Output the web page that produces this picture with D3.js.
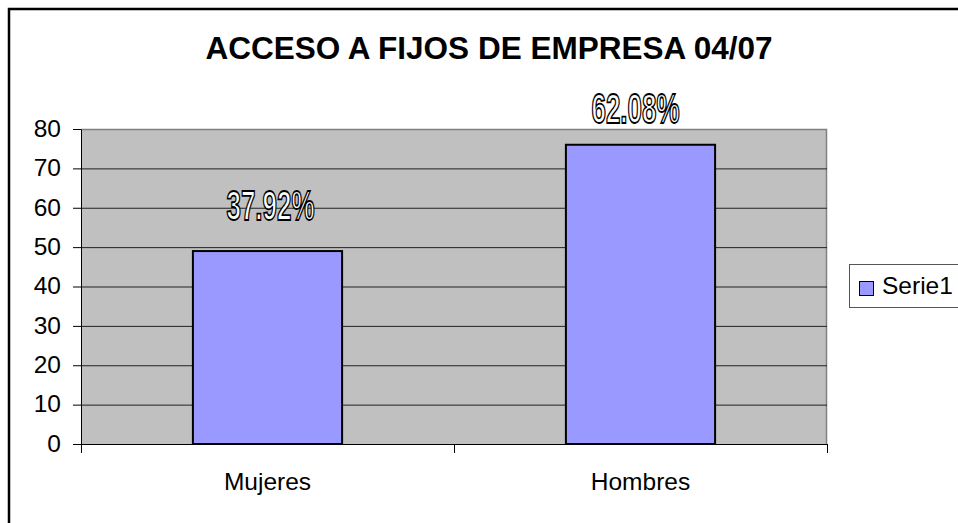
<!DOCTYPE html>
<meta charset="utf-8">
<head>
<style>
  body { margin: 0; background: #fff; }
  text { font-family: "Liberation Sans", Arial, sans-serif; }
</style>
</head>
<body>
<div id="chart"></div>
<script src="https://cdn.jsdelivr.net/npm/d3@7"></script>
<script>
// data
const categories = ["Mujeres", "Hombres"];
const values = [49, 76];
const pctLabels = ["37.92%", "62.08%"];
const yTicks = [0, 10, 20, 30, 40, 50, 60, 70, 80];
const seriesName = "Serie1";
const chartTitle = "ACCESO A FIJOS DE EMPRESA 04/07";

const W = 958, H = 523;
const plot = {left: 81, right: 827, top: 129, bottom: 444};
const fontSize = "24.5px";

const svg = d3.select("#chart").append("svg")
  .attr("width", W).attr("height", H);

// chart frame
svg.append("rect").attr("x", 0).attr("y", 0).attr("width", W).attr("height", H).attr("fill", "#fff");
svg.append("rect")
  .attr("x", 9).attr("y", 9).attr("width", 1000).attr("height", 600)
  .attr("fill", "#fff").attr("stroke", "#000").attr("stroke-width", 2.5);

const x = d3.scaleBand()
  .domain(categories)
  .range([plot.left, plot.right])
  .paddingInner(0.6)
  .paddingOuter(0.3);

const y = d3.scaleLinear()
  .domain([0, 80])
  .range([plot.bottom, plot.top]);

// plot area
svg.append("rect")
  .attr("x", plot.left).attr("y", plot.top)
  .attr("width", plot.right - plot.left).attr("height", plot.bottom - plot.top)
  .attr("fill", "#C0C0C0");
svg.append("path")
  .attr("d", `M${plot.left},${plot.top + 0.5}H${plot.right - 0.5}V${plot.bottom}`)
  .attr("fill", "none").attr("stroke", "#808080").attr("stroke-width", 1.5);

// gridlines
svg.append("g")
  .attr("transform", `translate(${plot.left},0)`)
  .call(d3.axisLeft(y).tickValues(yTicks.slice(1, -1)).tickSize(-(plot.right - plot.left)).tickFormat(""))
  .call(g => g.select(".domain").remove())
  .call(g => g.selectAll("line").attr("stroke", "#222").attr("stroke-width", 1));

// bars
svg.append("g")
  .selectAll("rect")
  .data(values)
  .join("rect")
  .attr("x", (d, i) => x(categories[i]))
  .attr("y", d => y(d))
  .attr("width", x.bandwidth())
  .attr("height", d => y(0) - y(d))
  .attr("fill", "#9999FF")
  .attr("stroke", "#000")
  .attr("stroke-width", 2);

// y axis
const yAxis = svg.append("g")
  .attr("transform", `translate(${plot.left},0)`)
  .call(d3.axisLeft(y).tickValues(yTicks).tickSize(8).tickSizeOuter(0).tickPadding(12));
yAxis.selectAll("line, path").attr("stroke", "#000");
yAxis.selectAll("text")
  .attr("fill", "#000")
  .style("font-size", fontSize)
  .attr("dy", "0.3em");

// x axis: ticks between the categories
const xb = d3.scaleLinear().domain([0, categories.length]).range([plot.left, plot.right]);
const xAxis = svg.append("g")
  .attr("transform", `translate(0,${plot.bottom})`)
  .call(d3.axisBottom(xb).tickValues(d3.range(categories.length + 1)).tickSize(9).tickSizeOuter(0).tickFormat(""));
xAxis.selectAll("line, path").attr("stroke", "#000");

svg.append("g")
  .selectAll("text")
  .data(categories)
  .join("text")
  .attr("x", d => x(d) + x.bandwidth() / 2)
  .attr("y", 490)
  .attr("text-anchor", "middle")
  .style("font-size", fontSize)
  .text(d => d);

// percentage labels (outlined)
const nudge = [{dx: 3, dy: -31}, {dx: -5, dy: -22}];
svg.append("g")
  .selectAll("text")
  .data(pctLabels)
  .join("text")
  .attr("x", (d, i) => x(categories[i]) + x.bandwidth() / 2 + nudge[i].dx)
  .attr("y", (d, i) => y(values[i]) + nudge[i].dy)
  .attr("text-anchor", "middle")
  .style("font-family", "'Liberation Sans Narrow', 'Liberation Sans', Arial, sans-serif")
  .style("font-weight", "bold")
  .style("font-size", "42px")
  .attr("fill", "#fff")
  .attr("stroke", "#000")
  .attr("stroke-width", 1.8)
  .attr("textLength", 88)
  .attr("lengthAdjust", "spacingAndGlyphs")
  .text(d => d);

// title
svg.append("text")
  .attr("x", 489)
  .attr("y", 59)
  .attr("text-anchor", "middle")
  .style("font-size", "31.5px")
  .style("font-weight", "bold")
  .text(chartTitle);

// legend
const legend = svg.append("g").attr("transform", "translate(849,264)");
legend.append("rect")
  .attr("x", 0.5).attr("y", 0.5).attr("width", 130).attr("height", 43)
  .attr("fill", "#fff").attr("stroke", "#555").attr("stroke-width", 1);
legend.append("rect")
  .attr("x", 10.5).attr("y", 17.5).attr("width", 14).attr("height", 14)
  .attr("fill", "#9999FF").attr("stroke", "#000").attr("stroke-width", 1);
legend.append("text")
  .attr("x", 33).attr("y", 30)
  .style("font-size", fontSize)
  .text(seriesName);
</script>
</body>
